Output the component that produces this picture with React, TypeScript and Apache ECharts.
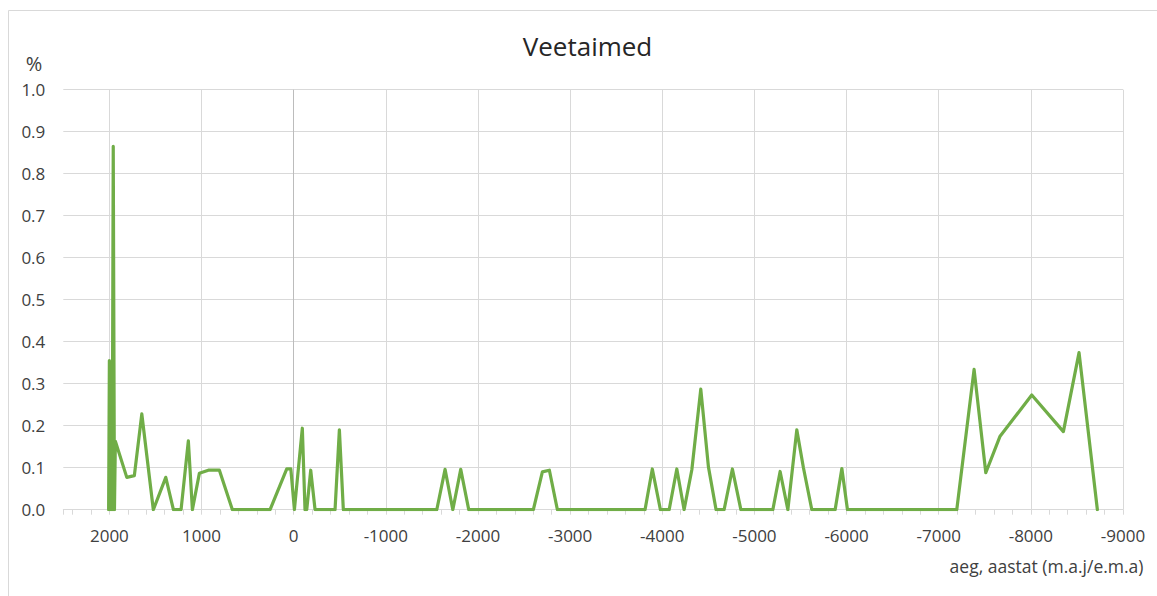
import React, { useEffect, useRef } from "react";
import * as echarts from "echarts";

const TITLE = "Veetaimed";
const Y_NAME = "%";
const X_NAME = "aeg, aastat (m.a.j/e.m.a)";

const YEARS = [
  2008, 2000, 1990, 1980, 1970, 1958, 1945, 1935, 1811, 1729, 1648, 1523, 1388, 1305, 1222, 1143, 1099,
  1023, 926, 806, 665, 256, 75, 31, -8, -94, -123, -142, -185, -232, -449, -496, -539, -1553, -1643,
  -1727, -1813, -1900, -2601, -2699, -2775, -2862, -3813, -3892, -3980, -4075, -4158, -4237, -4321,
  -4418, -4501, -4584, -4671, -4761, -4853, -5200, -5279, -5363, -5460, -5532, -5623, -5876, -5949,
  -6010, -7196, -7384, -7511, -7666, -8010, -8353, -8523, -8722,
];
const VALUES = [
  0, 0.355, 0, 0.25, 0, 0.865, 0, 0.163, 0.077, 0.081, 0.228, 0, 0.077, 0, 0, 0.164, 0,
  0.087, 0.094, 0.094, 0, 0, 0.097, 0.097, 0, 0.194, 0, 0, 0.094, 0, 0, 0.19, 0, 0, 0.096,
  0, 0.096, 0, 0, 0.09, 0.094, 0, 0, 0.097, 0, 0, 0.097, 0, 0.095,
  0.287, 0.102, 0, 0, 0.097, 0, 0, 0.091, 0, 0.19, 0.1, 0, 0, 0.098,
  0, 0, 0.334, 0.088, 0.175, 0.273, 0.186, 0.374, 0,
];

const X_MIN = -9000;
const X_MAX = 2500;
const X_MAJOR = 1000;
const X_MINOR = 200;
const X_TICKS = [-9000, -8000, -7000, -6000, -5000, -4000, -3000, -2000, -1000, 0, 1000, 2000];

const FONT = "'Open Sans', 'Noto Sans', sans-serif";
const GRID = "#d9d9d9";
const ZERO_LINE = "#bcbcbc";
const LABEL = "#404040";

export default function App() {
  const ref = useRef<HTMLDivElement>(null);

  useEffect(() => {
    if (!ref.current) return;
    const chart = echarts.init(ref.current, undefined, { renderer: "svg" });
    const data = YEARS.map((y, i) => [y, VALUES[i]]);
    const splitColors = X_TICKS.map((v) => (v === 0 ? ZERO_LINE : GRID));

    chart.setOption({
      animation: false,
      backgroundColor: "#ffffff",
      grid: { left: 63.3, right: 34, top: 89.7, bottom: 86.3, containLabel: false },
      graphic: [
        {
          type: "rect",
          shape: { x: 8.5, y: 10.5, width: 1300, height: 800 },
          style: { fill: "none", stroke: GRID, lineWidth: 1 },
          silent: true,
        },
        {
          type: "text",
          x: 587.5,
          y: 46,
          style: {
            text: TITLE,
            fontSize: 26,
            fontFamily: FONT,
            fill: "#262626",
            textAlign: "center",
            textVerticalAlign: "middle",
          },
        },
        {
          type: "text",
          x: 34,
          y: 63,
          style: {
            text: Y_NAME,
            fontSize: 20,
            fontFamily: FONT,
            fill: LABEL,
            textAlign: "center",
            textVerticalAlign: "middle",
          },
        },
        {
          type: "text",
          x: 1143.5,
          y: 566,
          style: {
            text: X_NAME,
            fontSize: 17.5,
            fontFamily: FONT,
            fill: LABEL,
            textAlign: "right",
            textVerticalAlign: "middle",
          },
        },
      ],
      xAxis: [
        {
          type: "value",
          min: X_MIN,
          max: X_MAX,
          interval: X_MAJOR,
          inverse: true,
          position: "bottom",
          axisLine: { show: true, onZero: false, lineStyle: { color: GRID, width: 1 } },
          axisTick: { show: false },
          axisLabel: {
            show: true,
            margin: 17,
            color: LABEL,
            fontSize: 17,
            fontFamily: FONT,
            showMaxLabel: false,
            formatter: (v: number) => (v > 2000 ? "" : String(v)),
          },
          splitLine: {
            show: true,
            showMaxLine: false,
            lineStyle: { color: splitColors, width: 1 },
          },
        },
        {
          type: "value",
          min: X_MIN,
          max: X_MAX,
          interval: X_MINOR,
          inverse: true,
          position: "bottom",
          offset: 0,
          axisLine: { show: false, onZero: false },
          axisTick: { show: true, length: 5, lineStyle: { color: GRID, width: 1 } },
          axisLabel: { show: false },
          splitLine: { show: false },
        },
      ],
      yAxis: {
        type: "value",
        min: 0,
        max: 1,
        interval: 0.1,
        axisLine: { show: false },
        axisTick: { show: false },
        axisLabel: {
          margin: 18,
          color: LABEL,
          fontSize: 17,
          fontFamily: FONT,
          formatter: (v: number) => v.toFixed(1),
        },
        splitLine: { show: true, lineStyle: { color: GRID, width: 1 } },
      },
      series: [
        {
          type: "line",
          xAxisIndex: 0,
          data,
          showSymbol: false,
          symbol: "none",
          lineStyle: { color: "#70ad47", width: 3.2, join: "round", cap: "round" },
          z: 3,
        },
      ],
    });

    return () => chart.dispose();
  }, []);

  return (
    <div
      ref={ref}
      style={{ position: "absolute", left: 0, top: 0, width: 1157, height: 596, background: "#fff" }}
    />
  );
}
